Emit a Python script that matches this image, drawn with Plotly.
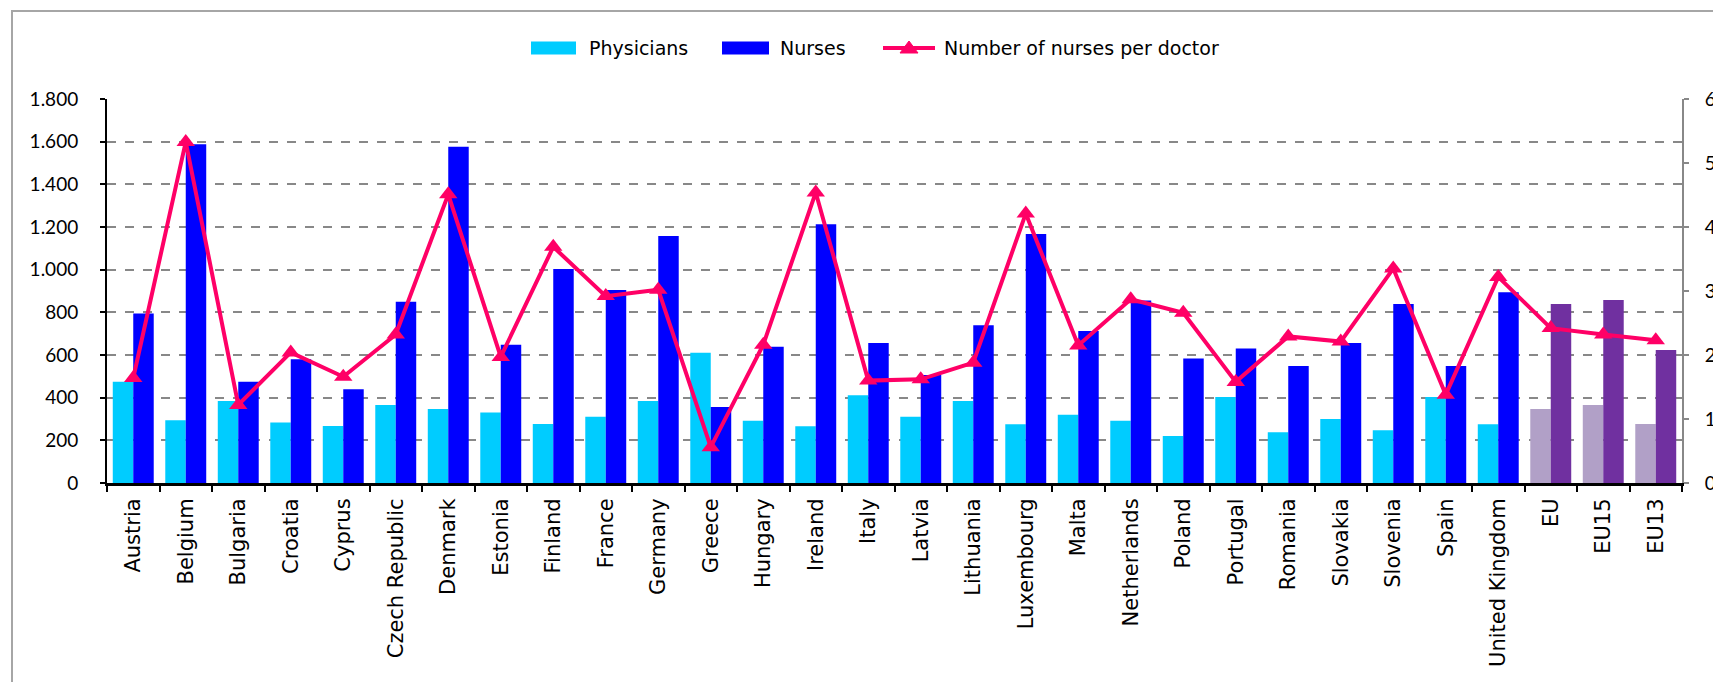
import plotly.graph_objects as go

categories = ["Austria", "Belgium", "Bulgaria", "Croatia", "Cyprus", "Czech Republic",
              "Denmark", "Estonia", "Finland", "France", "Germany", "Greece", "Hungary",
              "Ireland", "Italy", "Latvia", "Lithuania", "Luxembourg", "Malta",
              "Netherlands", "Poland", "Portugal", "Romania", "Slovakia", "Slovenia",
              "Spain", "United Kingdom", "EU", "EU15", "EU13"]

physicians = [475, 294, 384, 284, 267, 366, 347, 330, 277, 311, 384, 611, 292, 266, 411,
              311, 384, 275, 320, 292, 220, 403, 238, 300, 247, 403, 275, 347, 366, 277]

nurses = [795, 1588, 475, 580, 439, 850, 1576, 648, 1003, 905, 1158, 356, 639, 1213, 656,
          506, 739, 1167, 712, 856, 584, 630, 548, 656, 839, 548, 894, 839, 858, 623]

nurses_per_doctor = [1.64, 5.33, 1.22, 2.04, 1.66, 2.32, 4.51, 1.97, 3.69, 2.92, 3.02, 0.56,
                     2.16, 4.54, 1.60, 1.62, 1.88, 4.21, 2.15, 2.87, 2.66, 1.58, 2.29, 2.21,
                     3.35, 1.38, 3.22, 2.42, 2.32, 2.23]

aggregates = ["EU", "EU15", "EU13"]

left_ticks = [0, 200, 400, 600, 800, 1000, 1200, 1400, 1600, 1800]
left_tick_labels = ["0", "200", "400", "600", "800", "1.000", "1.200", "1.400", "1.600", "1.800"]
right_ticks = [0, 1, 2, 3, 4, 5, 6]
right_tick_labels = ["0", "1", "2", "3", "4", "5", "6"]

legend_names = ["Physicians", "Nurses", "Number of nurses per doctor"]

PHYS = "#00CCFF"
NURS = "#0000FF"
PHYS_EU = "#B1A0C7"
NURS_EU = "#7030A0"
LINE = "#FF0066"

phys_colors = [PHYS_EU if c in aggregates else PHYS for c in categories]
nurs_colors = [NURS_EU if c in aggregates else NURS for c in categories]

fig = go.Figure()
fig.add_trace(go.Bar(x=categories, y=physicians, name=legend_names[0],
                     marker=dict(color=phys_colors, line=dict(width=0)), yaxis="y"))
fig.add_trace(go.Bar(x=categories, y=nurses, name=legend_names[1],
                     marker=dict(color=nurs_colors, line=dict(width=0)), yaxis="y"))
fig.add_trace(go.Scatter(x=categories, y=nurses_per_doctor, name=legend_names[2],
                         mode="lines+markers", yaxis="y2",
                         line=dict(color=LINE, width=4),
                         marker=dict(symbol="triangle-up", size=16, color=LINE)))

W, H = 1713, 682
L, R, T, B = 107, 31, 99, 199
pw, ph = W - L - R, H - T - B

def px(x):
    return (x - L) / pw

def py(y):
    return (H - B - y) / ph

shapes = []
annotations = []
# outer frame
shapes.append(dict(type="rect", xref="paper", yref="paper",
                   x0=px(12), x1=px(1730), y0=py(11), y1=py(700),
                   line=dict(color="#A6A6A6", width=2), fillcolor="rgba(0,0,0,0)", layer="below"))
# custom legend
ly0, ly1, lyc = py(41.5), py(54.5), py(48)
shapes.append(dict(type="rect", xref="paper", yref="paper", x0=px(531), x1=px(576),
                   y0=ly1, y1=ly0, line=dict(width=0), fillcolor=PHYS))
shapes.append(dict(type="rect", xref="paper", yref="paper", x0=px(722), x1=px(769),
                   y0=ly1, y1=ly0, line=dict(width=0), fillcolor=NURS))
shapes.append(dict(type="line", xref="paper", yref="paper", x0=px(883), x1=px(935),
                   y0=lyc, y1=lyc, line=dict(color=LINE, width=4)))
shapes.append(dict(type="path", xref="paper", yref="paper", xsizemode="pixel", ysizemode="pixel",
                   xanchor=px(909), yanchor=lyc, path="M-9,-5 L9,-5 L0,7 Z",
                   fillcolor=LINE, line=dict(color=LINE, width=1)))
legend_font = dict(family="DejaVu Sans", size=19, color="black")
for xpos, name in zip([587, 778, 942], legend_names):
    annotations.append(dict(xref="paper", yref="paper", x=px(xpos), y=lyc, text=name,
                            showarrow=False, xanchor="left", yanchor="middle", font=legend_font))

fig.update_layout(
    width=W, height=H,
    margin=dict(l=L, r=R, t=T, b=B, autoexpand=False),
    paper_bgcolor="white", plot_bgcolor="white",
    barmode="group", bargap=0.22, bargroupgap=0,
    showlegend=False,
    shapes=shapes, annotations=annotations,
    xaxis=dict(type="category", range=[-0.5, len(categories) - 0.5],
               tickangle=-90, tickson="boundaries", ticks="outside",
               ticklen=6, tickwidth=1.5, tickcolor="black",
               showline=True, linecolor="black", linewidth=3,
               tickfont=dict(family="DejaVu Sans", size=21, color="black"),
               automargin=False, showgrid=False, ticklabelstandoff=4),
    yaxis=dict(range=[0, 1800], tickvals=left_ticks, ticktext=left_tick_labels,
               showgrid=True, gridcolor="#888888", griddash="dash", gridwidth=1.5,
               zeroline=False, showline=True, linecolor="black", linewidth=2,
               ticks="outside", ticklen=5, tickcolor="black", tickwidth=1.5,
               tickfont=dict(family="Lato", size=19, color="black"),
               automargin=False, ticklabelstandoff=18),
    yaxis2=dict(range=[0, 6], tickvals=right_ticks, ticktext=right_tick_labels,
                overlaying="y", side="right", showgrid=False, zeroline=False,
                showline=True, linecolor="#888888", linewidth=2,
                ticks="outside", ticklen=5, tickcolor="#888888", tickwidth=1.5,
                tickfont=dict(family="Lato", size=19, color="black"),
                automargin=False, ticklabelstandoff=12),
)

fig.write_html("out.html", config=dict(displayModeBar=False),
               post_script="document.body.style.margin='0';document.body.style.overflow='hidden';")
